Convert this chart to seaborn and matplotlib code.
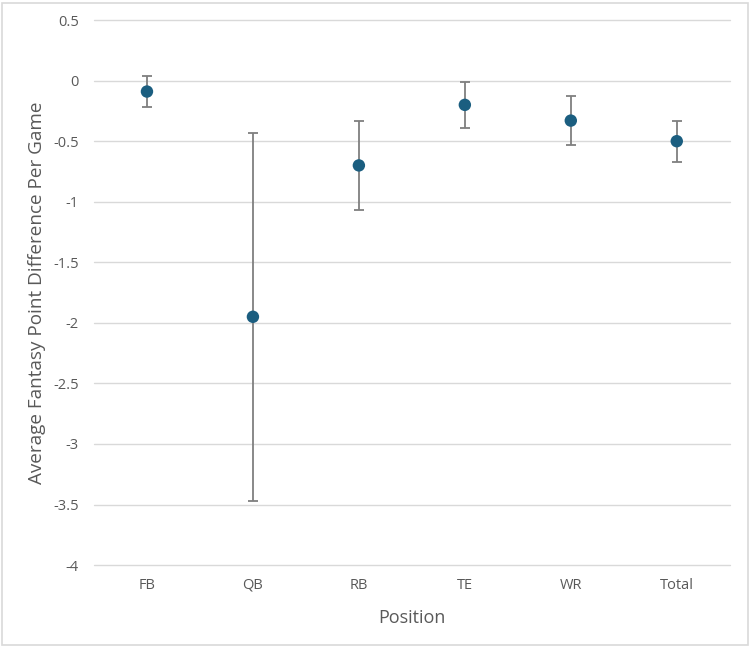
import numpy as np
import pandas as pd
import seaborn as sns
import matplotlib.pyplot as plt
from matplotlib.patches import Rectangle

# 各位置的平均值及误差范围
positions = ["FB", "QB", "RB", "TE", "WR", "Total"]
means = [-0.09, -1.95, -0.70, -0.20, -0.33, -0.50]
lower = [-0.22, -3.47, -1.07, -0.39, -0.53, -0.67]
upper = [0.04, -0.43, -0.33, -0.01, -0.13, -0.33]
y_ticks = [0.5, 0, -0.5, -1, -1.5, -2, -2.5, -3, -3.5, -4]

df = pd.DataFrame({"Position": positions, "Mean": means})
err_low = np.array(means) - np.array(lower)
err_high = np.array(upper) - np.array(means)

sns.set_theme(style="white")
plt.rcParams["font.family"] = ["Open Sans", "DejaVu Sans"]

fig = plt.figure(figsize=(7.5, 6.48), dpi=100)
ax = fig.add_axes([0.1253, 0.128, 0.8477, 0.841])

ax.errorbar(np.arange(len(positions)), means, yerr=[err_low, err_high],
            fmt="none", ecolor="#7F7F7F", elinewidth=1.3, capsize=3.5,
            capthick=1.3, zorder=2)
sns.scatterplot(data=df, x=np.arange(len(positions)), y="Mean", ax=ax,
                s=80, color="#1B5E80", edgecolor="none", zorder=3)

ax.set_xlim(-0.5, len(positions) - 0.5)
ax.set_ylim(-4, 0.5)
ax.set_xticks(np.arange(len(positions)))
ax.set_xticklabels(positions)
ax.set_yticks(y_ticks)
ax.set_yticklabels(["%g" % v for v in y_ticks])
ax.grid(axis="y", color="#D9D9D9", linewidth=1)
for gl in ax.get_ygridlines():
    gl.set_clip_on(False)
ax.set_axisbelow(True)
for s in ax.spines.values():
    s.set_visible(False)
ax.tick_params(axis="both", length=0, labelsize=10.5, labelcolor="#595959")
ax.tick_params(axis="y", pad=11)
ax.tick_params(axis="x", pad=9)

ax.set_xlabel("Position", fontsize=13, color="#595959", labelpad=12)
ax.set_ylabel("Average Fantasy Point Difference Per Game", fontsize=13.6,
              color="#595959", labelpad=5)

fig.patches.append(Rectangle((0.003, 0.004), 0.994, 0.992, transform=fig.transFigure,
                             fill=False, edgecolor="#D9D9D9", linewidth=1.2))

plt.savefig("out.png", dpi=100)
